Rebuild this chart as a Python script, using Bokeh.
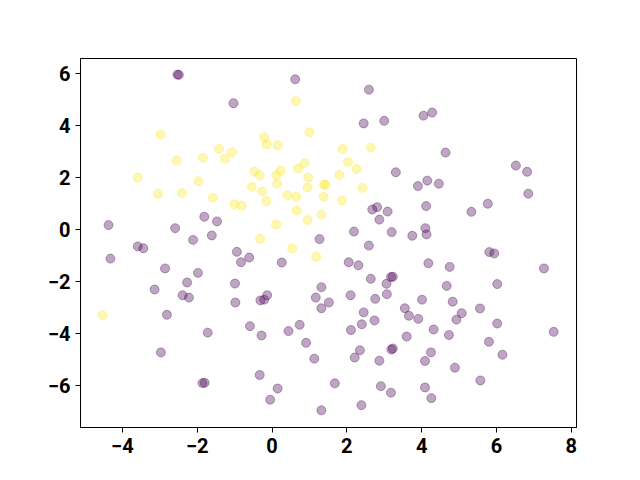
from bokeh.plotting import figure
from bokeh.models import FixedTicker, CustomJSTickFormatter, Range1d
from bokeh.embed import file_html
from bokeh.resources import INLINE

yellow_x = [0.64, -2.98, 1.0, -0.21, -0.14, 0.15, -1.41, -1.07, -1.26, -2.55, -1.85, 0.87, 0.70, 0.23,
            -0.47, -0.33, 0.11, 0.97, -3.59, -1.97, 0.14, 1.39, 1.43, -0.54, 0.95, -3.05, -2.41, -0.26,
            0.41, 0.65, 1.38, -1.58, -0.15, -1.01, -0.81, 0.66, 0.95, 1.32, 0.11, -0.32, 0.54, 1.89,
            2.64, 2.03, 2.26, 1.80, 2.42, 1.87, 1.18, -4.53]
yellow_y = [4.94, 3.65, 3.74, 3.55, 3.28, 3.24, 3.10, 2.97, 2.72, 2.65, 2.76, 2.55, 2.35, 2.27,
            2.23, 2.08, 2.08, 2.0, 1.99, 1.86, 1.76, 1.73, 1.71, 1.64, 1.62, 1.37, 1.40, 1.46,
            1.32, 1.26, 1.26, 1.22, 1.09, 0.97, 0.91, 0.73, 0.36, 0.57, 0.19, -0.36, -0.73, 3.10,
            3.15, 2.59, 2.33, 2.10, 1.60, 1.12, -1.05, -3.30]

purple_x = [-2.53, -2.49, 0.62, -1.03, -1.81, -1.47, -4.37, -2.59, -1.61, -2.11, 1.27, -3.59, -3.44,
            2.59, 2.45, 3.0, 4.05, 4.28, 4.64, 6.52, 6.82, 6.85, 3.31, 3.90, 4.15, 4.46, 4.12, 5.33,
            5.77, 2.68, 2.81, 3.09, 2.87, 2.19, 3.20, 3.75, 4.10, 4.13, 2.59,
            -4.32, -2.86, -1.98, -0.94, -0.83, -0.61, 0.26, -3.14, -2.27, -2.39, -2.22, -0.99, -0.98,
            -0.31, -0.21, -0.13, 1.32, 1.17, 1.32, 1.52, -2.81, -1.72, -0.59, -0.28, 0.44, 0.74, 0.91,
            1.13, -2.97, -1.86, -1.80, -0.33, 0.15, -0.05, 1.32,
            2.05, 2.31, 4.18, 4.75, 5.81, 5.94, 7.27, 3.18, 3.23, 2.64, 3.06, 3.07, 4.67, 6.02, 2.10,
            2.76, 4.01, 4.83, 5.56, 3.55, 3.66, 3.91, 2.45, 2.74, 2.40, 5.07, 4.93, 6.02, 2.11, 3.60,
            4.32, 4.73, 7.53, 5.80, 3.19, 3.23, 2.35, 2.21, 2.87, 4.25, 4.09, 6.16, 4.89, 1.68, 2.91,
            3.18, 4.09, 4.26, 5.57, 2.39]
purple_y = [5.96, 5.95, 5.78, 4.86, 0.49, 0.31, 0.17, 0.05, -0.23, -0.40, -0.37, -0.65, -0.72,
            5.38, 4.08, 4.18, 4.38, 4.5, 2.96, 2.46, 2.22, 1.38, 2.20, 1.67, 1.88, 1.76, 0.90, 0.68,
            0.99, 0.77, 0.86, 0.69, 0.38, -0.08, -0.10, -0.24, 0.05, -0.19, -0.62,
            -1.12, -1.50, -1.67, -0.86, -1.26, -1.08, -1.27, -2.31, -2.04, -2.53, -2.62, -2.08, -2.81,
            -2.73, -2.70, -2.53, -2.22, -2.62, -3.03, -2.81, -3.28, -3.97, -3.72, -4.08, -3.91, -3.67, -4.36,
            -4.97, -4.73, -5.91, -5.90, -5.60, -6.12, -6.55, -6.96,
            -1.26, -1.38, -1.30, -1.44, -0.87, -0.92, -1.50, -1.83, -1.82, -1.90, -2.09, -2.49, -2.17, -2.10, -2.53,
            -2.67, -2.70, -2.78, -3.04, -3.03, -3.32, -3.44, -3.19, -3.50, -3.65, -3.22, -3.47, -3.62, -3.87, -4.12,
            -3.85, -4.06, -3.94, -4.32, -4.62, -4.58, -4.65, -4.93, -5.05, -4.73, -5.06, -4.82, -5.32, -5.92, -6.03,
            -6.28, -6.08, -6.49, -5.81, -6.76]

x_ticks = [-4, -2, 0, 2, 4, 6, 8]
y_ticks = [-6, -4, -2, 0, 2, 4, 6]

p = figure(width=640, height=480, output_backend="svg", toolbar_location=None,
           x_range=Range1d(-5.12, 8.14), y_range=Range1d(-7.62, 6.58),
           min_border_left=80, min_border_right=64, min_border_top=58, min_border_bottom=53)

p.scatter(purple_x, purple_y, size=9, fill_color="#440154", line_color="#440154",
          fill_alpha=0.35, line_alpha=0.35, line_width=1)
p.scatter(yellow_x, yellow_y, size=9, fill_color="#fde725", line_color="#fde725",
          fill_alpha=0.35, line_alpha=0.35, line_width=1)

fmt = CustomJSTickFormatter(code="return tick.toFixed(0).replace('-', '\u2212');")
p.xaxis.ticker = FixedTicker(ticks=x_ticks)
p.yaxis.ticker = FixedTicker(ticks=y_ticks)
for ax in (p.xaxis, p.yaxis):
    ax.formatter = fmt
    ax.major_label_text_font = "Roboto"
    ax.major_label_text_font_style = "bold"
    ax.major_label_text_font_size = "20px"
    ax.major_label_text_color = "black"
    ax.minor_tick_line_color = None
    ax.major_tick_out = 5
    ax.major_tick_in = 0
    ax.major_tick_line_color = "black"
    ax.axis_line_color = "black"
    ax.major_label_standoff = 5
p.grid.visible = False
p.outline_line_color = "black"
p.outline_line_width = 1
p.background_fill_color = "white"
p.border_fill_color = "white"

open("out.html", "w").write(file_html(p, INLINE))
